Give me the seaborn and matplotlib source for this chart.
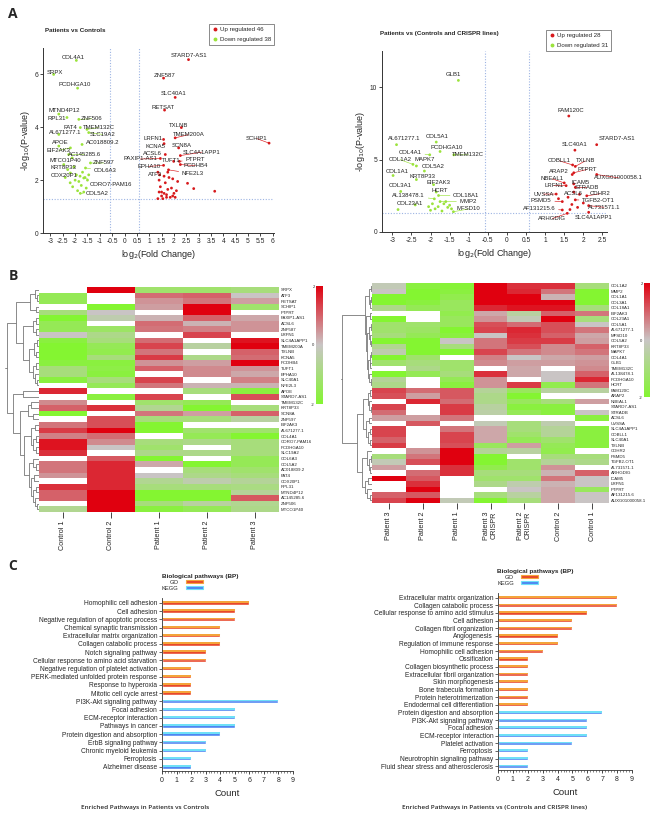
import numpy as np
import pandas as pd
import seaborn as sns
import matplotlib.pyplot as plt
from matplotlib.colors import LinearSegmentedColormap
from matplotlib.patches import Patch
from matplotlib.lines import Line2D
from matplotlib.ticker import MultipleLocator, FormatStrFormatter

sns.set_style("ticks")
plt.rcParams['font.family'] = ['Liberation Sans', 'DejaVu Sans']
plt.rcParams['axes.unicode_minus'] = False

nan = np.nan

# ---------------- A: volcano, patients vs controls
pc_up_genes = ["STARD7-AS1", "ZNF587", "SLC40A1", "RETSAT", "TXLNB", "TMEM200A", "SCHIP1", "LRFN1",
               "KCNA5", "SCN8A", "ACSL6", "SLC4A1APP1", "PAXIP1-AS1", "TUFT1", "PTPRT", "PCDHB4",
               "EPHA10", "NFE2L3", "ATF3"] + [""] * 27
pc_up_x = [2.59, 1.58, 2.05, 1.62, 2.30, 2.05, 5.85, 1.58, 1.60, 2.19, 1.65, 2.26, 1.45, 1.99, 2.22, 2.26,
           1.58, 1.78, 1.42,
           2.55, 2.80, 3.65, 1.40, 1.45, 1.50, 1.50, 1.55, 1.60, 1.65, 1.70, 1.75, 1.80, 1.85, 1.90, 1.95,
           2.00, 2.05, 2.10, 1.35, 1.35, 1.40, 1.70, 1.95, 2.15, 1.75, 1.60]
pc_up_y = [6.56, 5.86, 5.13, 4.65, 3.99, 3.60, 3.40, 3.54, 3.38, 3.22, 2.97, 2.93, 2.82, 2.71, 2.71, 2.59,
           2.56, 2.39, 2.20,
           1.88, 1.68, 1.58, 2.00, 1.75, 1.55, 1.40, 1.30, 1.50, 1.90, 1.45, 1.65, 2.10, 1.35, 1.70, 2.05,
           1.50, 1.35, 1.60, 1.30, 2.30, 1.55, 1.35, 1.40, 1.95, 2.30, 2.15]
pc_dn_genes = ["COL4A1", "SRPX", "PCDHGA10", "MTND4P12", "RPL31", "ZNF506", "FAT4", "AL671277.1",
               "TMEM132C", "SLC19A2", "AC018809.2", "APOE", "EIF2AK3", "AC145285.6", "MTCO1P40",
               "ZNF597", "KRT8P33", "COL6A3", "COX20P1", "CORO7-PAM16", "COL5A2"] + [""] * 17
pc_dn_x = [-1.95, -2.87, -1.90, -2.66, -2.33, -1.85, -1.79, -2.66, -1.52, -1.45, -1.72, -2.66, -2.19,
           -2.26, -2.12, -1.38, -2.46, -1.58, -2.19, -1.65, -1.79,
           -2.20, -2.10, -2.00, -1.95, -1.90, -1.85, -1.80, -1.75, -1.70, -1.60, -1.55, -1.50, -2.30,
           -2.40, -1.65, -1.45, -2.05]
pc_dn_y = [6.53, 6.00, 5.48, 4.50, 4.37, 4.30, 3.99, 3.73, 3.92, 3.80, 3.35, 3.29, 3.22, 2.97, 2.84,
           2.65, 2.59, 2.46, 2.27, 2.08, 1.50,
           1.90, 1.75, 2.00, 2.20, 1.60, 1.95, 2.15, 1.80, 2.30, 2.10, 1.70, 2.00, 2.40, 2.10, 1.55,
           2.20, 2.50]

# label text positions (data coords)
pc_label_pos = {
    "COL4A1": (-2.08, 6.64), "SRPX": (-2.8, 6.09), "PCDHGA10": (-2.03, 5.6), "MTND4P12": (-2.43, 4.65),
    "RPL31": (-2.73, 4.34), "ZNF506": (-1.32, 4.32), "FAT4": (-2.19, 4.01), "TMEM132C": (-1.05, 3.99),
    "AL671277.1": (-2.39, 3.8), "SLC19A2": (-0.88, 3.73), "AC018809.2": (-0.87, 3.41), "APOE": (-2.62, 3.41),
    "EIF2AK3": (-2.66, 3.13), "AC145285.6": (-1.63, 2.98), "MTCO1P40": (-2.39, 2.74), "ZNF597": (-0.84, 2.65),
    "KRT8P33": (-2.46, 2.46), "COL6A3": (-0.78, 2.37), "COX20P1": (-2.46, 2.18),
    "CORO7-PAM16": (-0.57, 1.82), "COL5A2": (-1.09, 1.48),
    "STARD7-AS1": (2.59, 6.73), "ZNF587": (1.61, 5.96), "SLC40A1": (1.99, 5.26), "RETSAT": (1.56, 4.75),
    "TXLNB": (2.19, 4.08), "TMEM200A": (2.59, 3.72), "SCHIP1": (5.36, 3.57), "LRFN1": (1.15, 3.59),
    "KCNA5": (1.25, 3.26), "SCN8A": (2.32, 3.32), "ACSL6": (1.11, 3.0), "SLC4A1APP1": (3.13, 3.06),
    "PAXIP1-AS1": (0.64, 2.8), "TUFT1": (1.88, 2.74), "PTPRT": (2.86, 2.79), "PCDHB4": (2.86, 2.55),
    "EPHA10": (0.98, 2.52), "NFE2L3": (2.77, 2.24), "ATF3": (1.25, 2.22),
}

# ---------------- A: volcano, patients vs (controls and CRISPR lines)
cc_up_genes = ["FAM120C", "STARD7-AS1", "SLC40A1", "COBLL1", "TXLNB", "PTPRT", "AUXG01000058.1", "ARAP2",
               "NBEAL1", "ICAM5", "LRFN1", "STRADB", "UVSSA", "ACSL6", "CDHR2", "PSMD5", "TGFB2-OT1",
               "AL731571.1", "AF131215.6", "ARHGDIG", "SLC4A1APP1"] + [""] * 7
cc_up_x = [1.62, 2.35, 1.78, 1.72, 1.79, 1.75, 2.35, 1.71, 1.50, 1.75, 1.55, 1.79, 1.29, 1.75, 2.09,
           1.45, 1.79, 2.14, 1.45, 1.58, 2.14,
           1.35, 1.60, 1.70, 1.85, 1.90, 2.00, 1.65]
cc_up_y = [8.01, 6.03, 5.65, 4.63, 4.53, 4.09, 3.97, 3.97, 3.39, 3.32, 3.20, 3.08, 2.62, 2.76, 2.50,
           2.10, 2.22, 1.82, 1.52, 1.29, 1.36,
           2.30, 2.40, 1.90, 1.70, 2.60, 2.00, 1.55]
cc_dn_genes = ["GLB1", "AL671277.1", "COL5A1", "PCDHGA10", "COL4A1", "TMEM132C", "COL1A2", "MAPK7",
               "COL5A2", "COL1A1", "KRT8P33", "EIF2AK3", "COL3A1", "HCRT", "COL18A1", "AL138478.1",
               "MMP2", "COL23A1", "MFSD10"] + [""] * 12
cc_dn_x = [-1.27, -2.89, -1.85, -1.75, -2.02, -1.39, -2.46, -2.37, -2.16, -2.98, -2.37, -1.92, -2.78,
           -1.85, -1.79, -1.90, -1.75, -2.40, -1.40,
           -2.85, -2.05, -2.00, -1.95, -1.88, -1.80, -1.70, -1.65, -1.60, -1.55, -1.50, -1.45]
cc_dn_y = [10.47, 6.03, 6.21, 5.56, 5.33, 5.33, 4.67, 4.56, 4.21, 3.90, 3.62, 3.27, 2.80, 2.76, 2.52,
           2.29, 2.10, 1.87, 1.40,
           1.55, 1.75, 1.50, 1.95, 1.60, 1.75, 1.45, 1.95, 2.10, 1.70, 1.85, 1.60]

cc_label_pos = {
    "GLB1": (-1.4, 10.86), "AL671277.1": (-2.68, 6.43), "COL5A1": (-1.83, 6.59), "PCDHGA10": (-1.58, 5.84),
    "COL4A1": (-2.53, 5.49), "TMEM132C": (-1.01, 5.33), "COL1A2": (-2.8, 5.0), "MAPK7": (-2.14, 5.0),
    "COL5A2": (-1.92, 4.51), "COL1A1": (-2.87, 4.16), "KRT8P33": (-2.22, 3.86), "EIF2AK3": (-1.79, 3.43),
    "COL3A1": (-2.78, 3.2), "HCRT": (-1.75, 2.87), "COL18A1": (-1.06, 2.52), "AL138478.1": (-2.57, 2.52),
    "MMP2": (-1.01, 2.1), "COL23A1": (-2.53, 1.99), "MFSD10": (-1.01, 1.59),
    "FAM120C": (1.66, 8.41), "STARD7-AS1": (2.87, 6.43), "SLC40A1": (1.78, 6.03), "COBLL1": (1.38, 4.91),
    "TXLNB": (2.05, 4.91), "ARAP2": (1.36, 4.16), "PTPRT": (2.09, 4.32), "AUXG01000058.1": (2.92, 3.74),
    "NBEAL1": (1.19, 3.67), "ICAM5": (1.94, 3.43), "LRFN1": (1.23, 3.2), "STRADB": (2.09, 3.08),
    "UVSSA": (0.96, 2.62), "ACSL6": (1.75, 2.66), "CDHR2": (2.44, 2.64), "PSMD5": (0.9, 2.17),
    "TGFB2-OT1": (2.4, 2.17), "AF131215.6": (0.84, 1.64), "AL731571.1": (2.54, 1.71),
    "ARHGDIG": (1.19, 0.93), "SLC4A1APP1": (2.27, 0.98),
}

# ---------------- B: heatmaps
hm1_cols = ["Control 1", "Control 2", "Patient 1", "Patient 2", "Patient 3"]
hm1_genes = ["SRPX", "ATF3", "RETSAT", "SCHIP1", "PTPRT", "PAXIP1-AS1", "ACSL6", "ZNF587", "LRFN1",
             "SLC4A1APP1", "TMEM200A", "TXLNB", "KCNA5", "PCDHB4", "TUFT1", "EPHA10", "SLC40A1", "NFE2L3",
             "APOE", "STARD7-AS1", "TMEM132C", "KRT8P33", "SCN8A", "ZNF597", "EIF2AK3", "AL671277.1",
             "COL4A1", "CORO7-PAM16", "PCDHGA10", "SLC19A2", "COL6A3", "COL5A2", "AC018809.2", "FAT4",
             "COX20P1", "RPL31", "MTND4P12", "AC145285.6", "ZNF506", "MTCO1P40"]
hm1_values = [
    [nan, 2.0, -1.2, -1.2, -1.0],
    [-1.5, nan, 0.9, 1.0, 0.0],
    [-1.5, nan, 0.5, 0.8, 0.4],
    [nan, -2.0, 0.4, 2.0, -1.2],
    [-1.0, 0.0, nan, 2.0, nan],
    [-2.0, -0.3, 0.2, 1.0, 0.3],
    [-1.5, nan, 0.9, 0.2, 0.5],
    [-1.5, -1.3, 0.8, 0.7, 0.5],
    [0.0, -0.8, nan, 1.3, nan],
    [-1.8, -1.0, 0.9, nan, 1.8],
    [-2.0, -1.5, 1.3, -0.5, 2.0],
    [-2.0, -1.6, 0.8, nan, 1.0],
    [-2.0, -1.0, 1.4, -0.8, 0.9],
    [-1.8, -1.8, 0.5, 0.4, 2.0],
    [-1.0, -1.7, 1.0, 0.6, 0.5],
    [-1.0, -1.8, nan, 0.6, 0.3],
    [-1.8, -1.0, 1.3, nan, 0.7],
    [nan, -1.5, 0.8, 0.2, 0.2],
    [1.6, nan, nan, -1.0, -1.8],
    [nan, -1.8, 1.3, nan, 1.2],
    [0.6, nan, -1.2, -1.5, nan],
    [1.0, 1.5, -0.7, -2.0, -1.0],
    [-2.0, nan, 0.8, 0.4, 1.0],
    [nan, 1.2, -1.0, -1.0, -0.5],
    [0.8, 1.2, -2.0, nan, nan],
    [1.4, 2.0, -2.0, -1.2, -1.2],
    [0.7, 0.9, nan, -1.5, -2.0],
    [1.8, 0.6, -1.0, -0.8, -1.0],
    [1.8, 0.0, -1.2, nan, -1.0],
    [1.5, nan, -0.8, -0.8, -1.0],
    [nan, 1.1, -2.0, nan, -1.5],
    [0.8, 1.6, 0.3, -2.0, -1.5],
    [0.8, 1.6, nan, -1.0, -1.2],
    [0.5, 1.6, 0.0, -0.8, -1.0],
    [nan, 1.6, -0.7, -0.3, -0.6],
    [1.5, 1.6, -1.0, -1.0, -0.9],
    [1.0, 2.0, -2.0, -2.0, -0.6],
    [1.0, 2.0, -2.0, -2.0, 1.1],
    [nan, 2.0, -1.0, -0.5, -0.7],
    [-0.7, 2.0, -1.8, -1.5, -0.8],
]
# merge tree: (height, left, right), leaves are row indices
hm1_tree = (1.0,
            (0.72,
             (0.28, (0.12, 0, (0.06, 1, 2)), (0.1, 3, 4)),
             (0.5, (0.2, (0.08, 5, 6), (0.1, 7, 8)),
              (0.3, (0.15, (0.06, 9, 10), (0.08, 11, 12)),
               (0.18, (0.08, 13, 14), (0.12, 15, (0.06, 16, 17)))))),
            (0.8, (0.5, 18, 19),
             (0.6, (0.35, (0.25, 20, 21), (0.2, 22, 23)),
              (0.45, (0.25, (0.12, 24, 25), (0.2, (0.08, 26, 27), (0.1, 28, 29))),
               (0.3, (0.2, 30, (0.1, 31, 32)),
                (0.25, (0.15, 33, 34), (0.2, (0.08, 35, 36), (0.12, 37, (0.06, 38, 39)))))))))

hm2_cols = ["Patient 3", "Patient 2", "Patient 1", "Patient 3\nCRISPR", "Patient 2\nCRISPR",
            "Control 2", "Control 1"]
hm2_genes = ["COL1A2", "MMP2", "COL1A1", "COL3A1", "COL18A1", "EIF2AK3", "COL23A1", "COL5A1", "AL671277.1",
             "MFSD10", "COL5A2", "KRT8P33", "MAPK7", "COL4A1", "GLB1", "TMEM132C", "AL138478.1",
             "PCDHGA10", "HCRT", "FAM120C", "ARAP2", "NBEAL1", "STARD7-AS1", "STRADB", "ACSL6", "UVSSA",
             "SLC4A1APP1", "COBLL1", "SLC40A1", "TXLNB", "CDHR2", "PSMD5", "TGFB2-OT1", "AL731571.1",
             "ARHGDIG", "ICAM5", "LRFN1", "PTPRT", "AF131215.6", "AUXG01000058.1"]
hm2_values = [
    [-0.2, -1.8, -1.9, 2.0, 1.5, 1.5, -1.0],
    [0.0, -2.0, -1.8, 2.0, 1.6, 0.8, -2.0],
    [-2.0, -2.0, -1.6, 2.0, 2.0, 0.2, -2.0],
    [-2.0, -1.8, -1.4, 2.0, 2.0, 2.0, -2.0],
    [-0.8, -1.5, -1.4, 1.6, 1.8, 1.8, -1.0],
    [nan, nan, -1.6, 0.3, -0.5, 1.0, 0.8],
    [-2.0, nan, -1.4, 0.5, -0.2, 2.0, -1.0],
    [-1.2, -1.2, -1.4, 1.2, 0.9, 1.2, 0.0],
    [-1.2, -1.3, -2.0, 1.3, 1.6, 1.2, 0.8],
    [-1.0, -1.5, -1.8, 0.0, 1.5, 1.0, 0.3],
    [-2.0, -2.0, 0.0, 0.8, 1.4, 1.4, 0.4],
    [-0.7, -2.0, -1.0, 0.8, 1.2, 0.6, 1.0],
    [-0.3, -2.0, -2.0, 1.3, 0.8, 0.6, 0.8],
    [-2.0, -1.2, nan, 0.7, 0.0, 0.3, 0.4],
    [-1.2, -1.0, -1.2, 0.6, 0.4, 0.4, 0.5],
    [nan, -0.8, -1.2, nan, 0.3, nan, 0.6],
    [-2.0, -1.5, -1.0, 1.5, 0.3, 0.0, 1.0],
    [-0.6, nan, -1.5, 0.5, nan, 0.0, 1.6],
    [-0.8, nan, -1.8, 0.5, 1.4, -1.6, 0.8],
    [1.3, 0.9, 1.1, -0.6, -1.4, -0.5, -0.5],
    [1.2, 0.4, 1.1, -0.8, -2.0, nan, nan],
    [nan, 1.6, 0.9, -0.8, -1.4, -1.0, 0.4],
    [1.3, nan, 1.4, -0.5, -1.8, -1.8, nan],
    [0.9, nan, 1.4, -0.4, -1.5, -1.8, 0.0],
    [0.4, 0.4, 0.8, nan, nan, nan, -1.8],
    [nan, 1.1, nan, -0.2, -1.0, -0.3, nan],
    [1.3, nan, 0.8, 0.3, -1.0, -0.6, -1.8],
    [1.3, nan, 1.3, 0.3, -1.2, -0.6, -1.8],
    [1.0, nan, 1.3, 0.3, -1.5, -1.2, -1.8],
    [1.4, nan, 1.2, -1.4, 0.4, -1.5, -1.8],
    [nan, 0.5, 2.0, -0.6, -0.5, -1.6, nan],
    [-1.0, 0.8, 2.0, -2.0, nan, -1.0, -1.0],
    [-0.2, 1.2, 2.0, -2.0, -1.2, -0.6, -0.8],
    [0.4, nan, 1.5, -1.6, -1.2, 0.5, nan],
    [nan, 0.9, 1.5, -1.0, -1.0, 0.2, 1.0],
    [2.0, 1.1, nan, -1.2, -1.2, 0.8, 0.0],
    [nan, 1.5, nan, -0.8, -0.3, 0.2, 0.0],
    [nan, 2.0, nan, nan, 0.0, 0.3, -1.4],
    [1.0, 1.1, nan, -1.0, -0.5, 0.3, 0.0],
    [1.3, 2.0, -0.2, -2.0, -1.0, 0.3, 0.0],
]
hm2_tree = (1.0,
            (0.25,
             (0.1, (0.04, 0, 1), (0.06, (0.03, 2, 3), 4)),
             (0.2, (0.08, 5, 6),
              (0.16, (0.1, (0.05, 7, 8), (0.07, 9, (0.04, 10, 11))),
               (0.13, (0.08, (0.04, 12, 13), (0.06, 14, 15)), (0.09, 16, (0.05, 17, 18)))))),
            (0.5,
             (0.3, (0.15, (0.07, 19, 20), (0.1, 21, (0.05, 22, 23))),
              (0.2, (0.1, 24, 25), (0.15, (0.06, 26, 27), (0.08, 28, 29)))),
             (0.35, (0.18, 30, (0.1, (0.05, 31, 32), (0.07, 33, 34))),
              (0.25, (0.12, 35, 36), (0.16, 37, (0.07, 38, 39))))))

# ---------------- C: enriched pathways
c1_terms = ["Homophilic cell adhesion", "Cell adhesion", "Negative regulation of apoptotic process",
            "Chemical synaptic transmission", "Extracellular matrix organization", "Collagen catabolic process",
            "Notch signaling pathway", "Cellular response to amino acid starvation",
            "Negative regulation of platelet activation", "PERK-mediated unfolded protein response",
            "Response to hyperoxia", "Mitotic cell cycle arrest",
            "PI3K-Akt signaling pathway", "Focal adhesion", "ECM-receptor interaction", "Pathways in cancer",
            "Protein digestion and absorption", "ErbB signaling pathway", "Chronic myeloid leukemia",
            "Ferroptosis", "Alzheimer disease"]
c1_counts = [6, 5, 5, 4, 4, 4, 3, 3, 2, 2, 2, 2, 8, 5, 5, 5, 4, 3, 3, 2, 2]
c1_source = ["GO"] * 12 + ["KEGG"] * 9

c2_terms = ["Extracellular matrix organization", "Collagen catabolic process",
            "Cellular response to amino acid stimulus", "Cell adhesion", "Collagen fibril organization",
            "Angiogenesis", "Regulation of immune response", "Homophilic cell adhesion", "Ossification",
            "Collagen biosynthetic process", "Extracellular fibril organization", "Skin morphogenesis",
            "Bone trabecula formation", "Protein heterotrimerization", "Endodermal cell differentiation",
            "Protein digestion and absorption", "PI3K-Akt signaling pathway", "Focal adhesion",
            "ECM-receptor interaction", "Platelet activation", "Ferroptosis",
            "Neurotrophin signaling pathway", "Fluid shear stress and atherosclerosis"]
c2_counts = [8, 8, 6, 5, 5, 4, 4, 3, 2, 2, 2, 2, 2, 2, 2, 7, 6, 6, 6, 5, 2, 2, 2]
c2_source = ["GO"] * 15 + ["KEGG"] * 8

UP_COL, DN_COL = "#D7191C", "#9BE33C"
GUIDE = "#9DB4E3"
W, H = 659, 816


def fx(px):
    return px / W


def fy(py):
    return 1 - py / H


def volcano(ax, up_x, up_y, up_genes, dn_x, dn_y, dn_genes, label_pos, xlim, ylim, xstep, ystep):
    df = pd.DataFrame({"x": up_x + dn_x, "y": up_y + dn_y, "gene": up_genes + dn_genes,
                       "reg": ["Up"] * len(up_x) + ["Down"] * len(dn_x)})
    pal = {"Up": UP_COL, "Down": DN_COL}
    for v in (-0.58, 0.58):
        ax.axvline(v, color=GUIDE, ls=(0, (1, 1.5)), lw=0.8, zorder=0)
    ax.axhline(1.3, color=GUIDE, ls=(0, (1, 1.5)), lw=0.8, zorder=0)
    sns.scatterplot(data=df, x="x", y="y", hue="reg", palette=pal, s=4, linewidth=0,
                    legend=False, ax=ax, zorder=3)
    for _, r in df[df.gene != ""].iterrows():
        tx, ty = label_pos[r.gene]
        d = np.hypot((tx - r.x) / (xlim[1] - xlim[0]), (ty - r.y) / (ylim[1] - ylim[0]))
        arrow = dict(arrowstyle="-", color=pal[r.reg], lw=0.45, shrinkA=0, shrinkB=0) if d > 0.05 else None
        ax.annotate(r.gene, xy=(r.x, r.y), xytext=(tx, ty), ha="center", va="center",
                    fontsize=4.3, color="#222222", arrowprops=arrow, annotation_clip=False)
    ax.set_xlim(*xlim)
    ax.set_ylim(*ylim)
    ax.xaxis.set_major_locator(MultipleLocator(xstep))
    ax.yaxis.set_major_locator(MultipleLocator(ystep))
    ax.xaxis.set_major_formatter(FormatStrFormatter("%g"))
    ax.tick_params(labelsize=4.8, length=2, width=0.6, pad=1.5)
    for s in ("left", "bottom"):
        ax.spines[s].set_linewidth(0.7)
        ax.spines[s].set_color("#333333")
    sns.despine(ax=ax)
    ax.set_xlabel("log$_2$(Fold Change)", fontsize=6.5, labelpad=2)
    ax.set_ylabel("-log$_{10}$(P-value)", fontsize=6.5, labelpad=2)
    return len(up_x), len(dn_x)


def volcano_legend(fig, n_up, n_dn, anchor):
    handles = [Line2D([], [], marker="o", ls="", color=UP_COL, markersize=1.8),
               Line2D([], [], marker="o", ls="", color=DN_COL, markersize=1.8)]
    leg = fig.legend(handles, [f"Up regulated {n_up}", f"Down regulated {n_dn}"], loc="upper right",
                     bbox_to_anchor=anchor, fontsize=4.4, frameon=True, fancybox=False,
                     handlelength=0.8, handletextpad=0.4, borderpad=0.5, labelspacing=0.7)
    leg.get_frame().set_linewidth(0.5)
    leg.get_frame().set_edgecolor("#333333")


def draw_tree(ax, node):
    if isinstance(node, int):
        return node + 0.5, 0.0
    h, a, b = node
    ya, ha = draw_tree(ax, a)
    yb, hb = draw_tree(ax, b)
    ax.plot([ha, h, h, hb], [ya, ya, yb, yb], color="#777777", lw=0.6, solid_capstyle="butt")
    return (ya + yb) / 2, h


def dendro(ax, tree, n):
    yc, h = draw_tree(ax, tree)
    ax.plot([h * 1.06, h], [yc, yc], color="#777777", lw=0.6)
    ax.set_ylim(n, 0)
    ax.set_xlim(h * 1.08, 0)
    ax.axis("off")


cmap = LinearSegmentedColormap.from_list("gr", ["#84F531", "#C9C5C5", "#E0000F"])


def heat(ax, cax, genes, cols, values):
    df = pd.DataFrame(values, index=genes, columns=cols)
    sns.heatmap(df, cmap=cmap, vmin=-2, vmax=2, ax=ax, cbar_ax=cax, xticklabels=True, yticklabels=True,
                cbar_kws={"ticks": [-2, 0, 2]})
    ax.yaxis.tick_right()
    ax.tick_params(axis="y", length=0, labelsize=3.2, pad=1.5)
    ax.tick_params(axis="x", length=4, width=0.7, labelsize=5.2, pad=2, color="#444444")
    plt.setp(ax.get_yticklabels(), rotation=0)
    plt.setp(ax.get_xticklabels(), rotation=90, va="top", ha="center", linespacing=1.0)
    ax.set_xlabel("")
    ax.set_ylabel("")
    cbar = ax.collections[0].colorbar
    cbar.outline.set_visible(False)
    cax.yaxis.set_ticks_position("left")
    cax.tick_params(labelsize=3, length=0, pad=1)
    cax.set_yticklabels(["-2", "0", "2"])


GO_DARK, GO_LIGHT = "#E8472B", "#F4A43A"
KG_DARK, KG_LIGHT = "#4F86F2", "#6FE0F7"


def pathways(ax, terms, counts, source):
    df = pd.DataFrame({"term": terms, "count": counts, "source": source})
    sns.barplot(data=df, x="count", y="term", hue="source", palette={"GO": GO_DARK, "KEGG": KG_DARK},
                orient="h", width=0.42, dodge=False, legend=False, ax=ax, saturation=1)
    light = [GO_LIGHT if s == "GO" else KG_LIGHT for s in source]
    ax.barh(np.arange(len(terms)) - 0.105, counts, height=0.21, color=light, lw=0)
    ax.set_xlim(0, 9)
    ax.set_ylim(len(terms) - 0.5, -0.6)
    ax.xaxis.set_major_locator(MultipleLocator(1))
    ax.xaxis.set_minor_locator(MultipleLocator(0.2))
    ax.tick_params(axis="y", labelsize=4.8, length=2, width=0.5, pad=1.5)
    ax.tick_params(axis="x", which="major", labelsize=5, length=2.5, width=0.6, pad=1.5)
    ax.tick_params(axis="x", which="minor", length=1.5, width=0.4)
    for s in ("left", "bottom"):
        ax.spines[s].set_linewidth(0.6)
        ax.spines[s].set_color("#333333")
    sns.despine(ax=ax)
    ax.set_ylabel("")
    ax.set_xlabel("Count", fontsize=6.8, labelpad=4)


def pathway_legend(fig, anchor):
    handles = [Patch(facecolor=GO_DARK, edgecolor=GO_LIGHT, lw=0.8),
               Patch(facecolor=KG_DARK, edgecolor=KG_LIGHT, lw=0.8)]
    fig.legend(handles, ["GO", "KEGG"], title="Biological pathways (BP)", loc="upper left",
               bbox_to_anchor=anchor, frameon=False, markerfirst=False, fontsize=4.2,
               title_fontproperties={"weight": "bold", "size": 4.6}, alignment="left",
               handlelength=3.0, handleheight=0.5, handletextpad=1.2, borderpad=0,
               labelspacing=0.15, borderaxespad=0)


fig = plt.figure(figsize=(6.59, 8.16), dpi=100)

# A
ax1 = fig.add_axes([fx(43), fy(233), fx(274 - 43), (233 - 48) / H])
n_up, n_dn = volcano(ax1, pc_up_x, pc_up_y, pc_up_genes, pc_dn_x, pc_dn_y, pc_dn_genes, pc_label_pos,
                     (-3.3, 6.05), (0, 7.0), 0.5, 2)
volcano_legend(fig, n_up, n_dn, (fx(277), fy(21)))
fig.text(fx(45), fy(30), "Patients vs Controls", fontsize=4.5, weight="bold", va="center")

ax2 = fig.add_axes([fx(382), fy(232), fx(607 - 382), (232 - 51) / H])
n_up, n_dn = volcano(ax2, cc_up_x, cc_up_y, cc_up_genes, cc_dn_x, cc_dn_y, cc_dn_genes, cc_label_pos,
                     (-3.27, 2.62), (0, 12.5), 0.5, 5)
volcano_legend(fig, n_up, n_dn, (fx(614), fy(27)))
fig.text(fx(380), fy(34), "Patients vs (Controls and CRISPR lines)", fontsize=4.5, weight="bold", va="center")

# B
hax1 = fig.add_axes([fx(39), fy(512), fx(279 - 39), 225 / H])
cax1 = fig.add_axes([fx(316), fy(404), fx(7), 118 / H])
heat(hax1, cax1, hm1_genes, hm1_cols, hm1_values)
dax1 = fig.add_axes([fx(4), fy(512), fx(35), 225 / H])
dendro(dax1, hm1_tree, len(hm1_genes))

hax2 = fig.add_axes([fx(372), fy(503), fx(609 - 372), 220 / H])
cax2 = fig.add_axes([fx(644), fy(397), fx(6), 114 / H])
heat(hax2, cax2, hm2_genes, hm2_cols, hm2_values)
dax2 = fig.add_axes([fx(340), fy(503), fx(32), 220 / H])
dendro(dax2, hm2_tree, len(hm2_genes))

# C
bax1 = fig.add_axes([fx(162), fy(771), fx(293 - 162), (771 - 598) / H])
pathways(bax1, c1_terms, c1_counts, c1_source)
pathway_legend(fig, (fx(162), fy(574)))
bax2 = fig.add_axes([fx(498), fy(770), fx(632 - 498), (770 - 593) / H])
pathways(bax2, c2_terms, c2_counts, c2_source)
pathway_legend(fig, (fx(497), fy(569)))

cap = dict(fontsize=4.6, family=["Open Sans", "DejaVu Sans"], weight="semibold", ha="center", va="center")
fig.text(fx(145), fy(808), "Enriched Pathways in Patients vs Controls", **cap)
fig.text(fx(495), fy(808), "Enriched Pathways in Patients vs (Controls and CRISPR lines)", **cap)

for letter, (px, py) in {"A": (13, 14), "B": (13, 276), "C": (13, 566)}.items():
    fig.text(fx(px), fy(py), letter, fontsize=10, weight="bold", family=["Open Sans", "DejaVu Sans"],
             va="center", ha="center")

fig.savefig("out.png", dpi=100, facecolor="white")
